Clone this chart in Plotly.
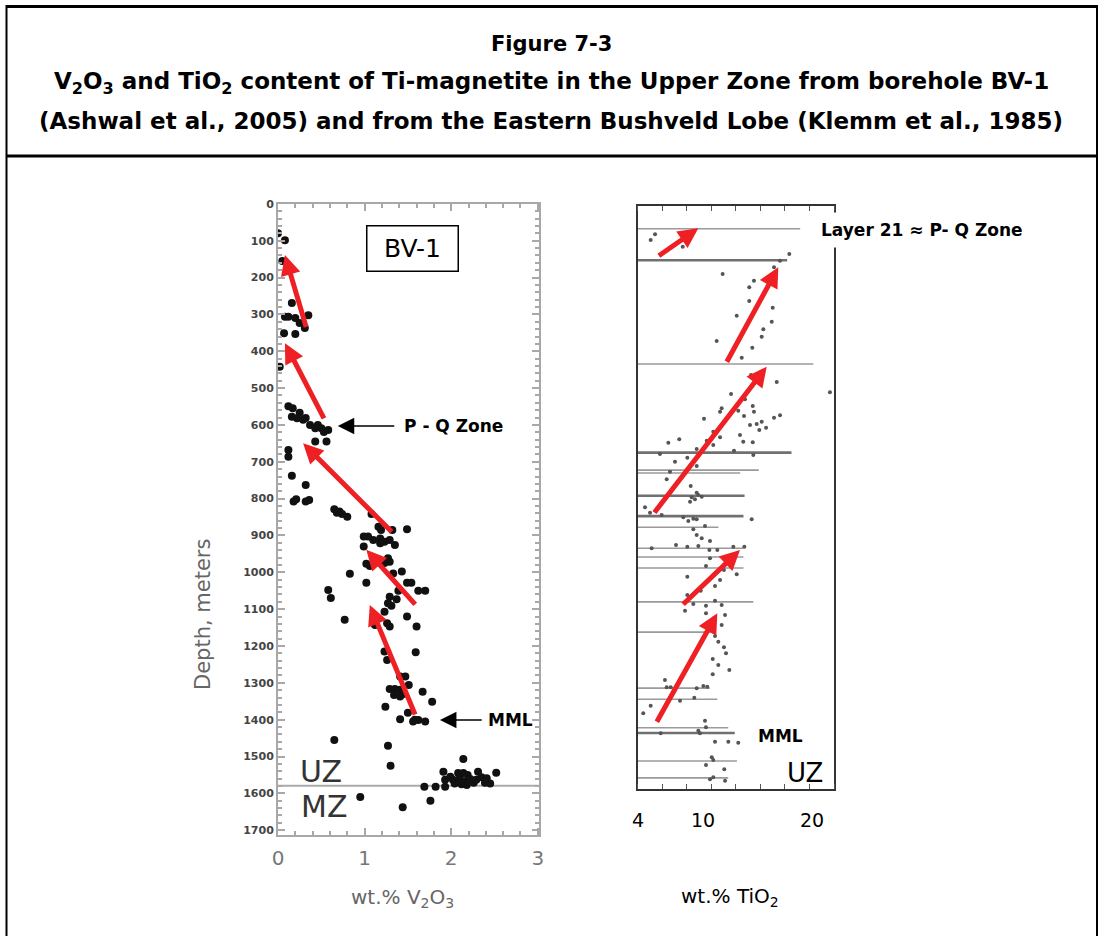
import plotly.graph_objects as go

W, H = 1102, 936

# ---------------- Left panel: borehole BV-1 (Ashwal et al., 2005) ----------------
v2o3 = [0.00, 0.08, 0.05, 0.16, 0.08, 0.12, 0.20, 0.25, 0.31, 0.35, 0.07, 0.20, 0.02,
        0.12, 0.17, 0.25, 0.16, 0.22, 0.29, 0.32, 0.37, 0.43, 0.46, 0.50, 0.53, 0.58, 0.43, 0.56, 0.12, 0.12,
        0.16, 0.32, 0.18, 0.21, 0.32, 0.36,
        0.65, 0.71, 0.74, 0.80, 0.68,
        1.08, 1.16, 1.19, 1.32, 1.49,
        0.99, 1.04, 1.18, 1.29, 1.35, 1.10, 1.18, 1.23, 0.99,
        1.27, 1.29, 1.23, 1.02, 1.06,
        1.33, 1.43, 0.83, 1.02, 1.49, 1.54,
        1.39, 1.62, 1.70, 0.58, 0.61,
        1.29, 1.37, 1.27, 1.31, 1.23, 1.49, 0.77,
        1.12, 1.26, 1.29, 1.60,
        1.23, 1.26, 1.59,
        1.41, 1.47, 1.51, 1.29, 1.35, 1.41, 1.34, 1.41, 1.45, 1.67, 1.78, 1.24, 1.50, 1.41, 1.56, 1.62, 1.70, 1.58,
        0.65, 1.27, 1.30, 0.95, 1.44, 1.76, 1.69, 1.82, 2.14,
        1.91, 1.93, 1.93, 1.99, 2.02, 2.08, 2.10, 2.14, 2.16, 2.19, 2.22, 2.26, 2.31, 2.35, 2.39, 2.45, 2.52,
        2.04, 2.12, 2.18, 2.29, 2.41]
depth = [80, 99, 155, 269, 306, 306, 310, 323, 337, 302, 351, 353, 442,
         549, 555, 567, 578, 582, 586, 581, 600, 609, 600, 609, 619, 614, 645, 645, 668, 686,
         738, 763, 808, 802, 808, 804,
         829, 835, 842, 849, 838,
         842, 876, 885, 885, 883,
         903, 903, 908, 912, 926, 912, 921, 917, 930,
         962, 971, 975, 977, 983,
         1003, 998, 1004, 1028, 1028, 1028,
         1050, 1050, 1050, 1048, 1070,
         1066, 1073, 1084, 1091, 1107, 1120, 1129,
         1143, 1138, 1147, 1147,
         1215, 1238, 1217,
         1283, 1283, 1306, 1317, 1317, 1319, 1333, 1337, 1330, 1324, 1351, 1365, 1381, 1399, 1405, 1401, 1405, 1400,
         1455, 1471, 1525, 1610, 1638, 1620, 1582, 1582, 1507,
         1541, 1563, 1582, 1555, 1563, 1545, 1559, 1545, 1568, 1550, 1561, 1571, 1541, 1556, 1571, 1573, 1544,
         1573, 1575, 1577, 1563, 1559]

uz_mz_depth = 1579
y_ticks = list(range(0, 1800, 100))
x_ticks = [0, 1, 2, 3]

# red trend arrows (tail -> tip), left panel
la_tail_v = [0.33, 0.54, 1.33, 1.60, 1.59]
la_tail_d = [338, 586, 894, 1091, 1390]
la_tip_v = [0.08, 0.08, 0.29, 1.02, 1.06]
la_tip_d = [139, 378, 650, 939, 1089]

# ---------------- Right panel: Eastern Bushveld Lobe (Klemm et al., 1985) ----------------
tio2 = [5.59, 5.19, 8.13, 17.90, 17.05, 16.50, 11.79, 14.66, 14.23, 14.23, 16.38, 13.08, 16.29, 15.52,
        15.37, 11.24, 14.51, 13.54, 14.39, 16.75, 21.63, 12.56, 13.84, 11.70, 11.55, 13.22, 14.55, 14.66,
        13.75, 10.08, 17.05, 16.50, 15.37, 14.91, 14.30, 15.77, 15.15, 10.93, 11.55, 13.38, 7.81, 6.81,
        10.33, 10.93, 13.68, 14.55, 9.41, 12.83, 6.04, 14.60, 8.55, 7.42, 9.41, 6.96, 6.66, 8.86,
        9.41, 9.56, 8.95, 9.25, 8.80, 9.87, 4.67, 5.13, 6.20, 8.18, 8.64, 9.10, 9.41, 14.45, 10.17,
        9.10, 9.41, 9.87, 10.63, 5.28, 7.51, 8.55, 9.56, 10.57, 11.30, 12.77, 13.78, 10.63, 10.26,
        11.91, 13.08, 11.55, 8.55, 11.09, 8.55, 9.78, 11.09, 11.70, 9.10, 10.26, 8.34, 10.26, 12.01,
        11.70, 10.93, 11.09, 11.39, 11.91, 12.10, 10.88, 11.39, 12.40, 10.88, 6.50, 6.66, 7.03, 9.41,
        10.02, 10.38, 9.19, 7.88, 5.19, 4.51, 10.17, 10.26, 9.56, 9.71, 6.11, 11.09, 12.31, 13.22,
        10.79, 10.26, 10.93, 11.94, 10.63, 12.01, 10.93]
strat_pos = [4.85, 5.83, 6.98, 8.23, 9.38, 10.51, 11.66, 12.81, 13.95, 16.30, 17.44, 18.82, 19.85, 21.15,
             22.42, 23.16, 24.31, 26.02, 28.99, 30.19, 31.96, 32.25, 33.16, 34.70, 35.28, 35.11, 34.31, 35.28,
             36.02, 36.48, 35.90, 36.31, 37.00, 37.39, 37.56, 38.03, 38.42, 38.71, 39.67, 39.28, 40.02, 40.60,
             40.26, 41.00, 40.43, 40.53, 41.68, 41.97, 42.54, 42.71, 43.17, 43.86, 44.60, 45.58, 46.88, 48.03,
             49.18, 49.57, 49.97, 50.31, 50.72, 49.86, 51.68, 52.61, 53.00, 53.40, 54.03, 53.64, 53.74, 53.74, 54.89,
             55.46, 56.43, 57.00, 57.46, 58.72, 58.15, 58.44, 58.32, 59.01, 59.01, 58.44, 58.44, 60.43, 61.75,
             62.44, 63.17, 64.15, 63.59, 65.18, 66.73, 65.99, 67.70, 68.44, 68.27, 68.56, 69.42, 69.86, 70.16,
             71.87, 73.02, 73.76, 74.74, 75.70, 76.73, 77.70, 78.73, 79.59, 80.33, 81.30, 82.56, 82.56, 82.73,
             82.33, 82.45, 84.34, 84.86, 85.71, 87.02, 88.29, 89.42, 90.00, 90.45, 90.45, 91.89, 91.89, 92.06,
             94.56, 95.88, 95.03, 96.62, 98.34, 98.58, 98.00]

# magnetite layers (position, lateral extent in TiO2 units)
layer_pos_thin = [3.9, 27.1, 45.3, 45.8, 55.1, 58.7, 60.2, 62.1, 67.9, 73.1, 82.7, 84.6, 89.5, 95.2, 98.1]
layer_ext_thin = [18.9, 20.1, 15.1, 13.4, 11.4, 13.7, 13.7, 13.7, 14.6, 10.9, 10.6, 11.3, 12.3, 13.1, 12.3]
layer_pos_thick = [9.3, 42.3, 49.7, 53.2, 90.4]
layer_ext_thick = [17.7, 18.1, 13.8, 13.7, 12.9]

ra_tail_t = [5.80, 12.10, 5.43, 8.03, 5.68]
ra_tail_p = [8.70, 26.98, 52.83, 68.56, 88.73]
ra_tip_t = [9.56, 16.89, 15.83, 13.38, 11.30]
ra_tip_p = [3.83, 10.51, 27.56, 59.01, 69.86]

tio2_ticks = [4, 10, 20]

RED = "#ee2024"
GRAY = "#a8a8a8"
FAM = "DejaVu Sans, Verdana, sans-serif"


def px(x):
    return x / W


def py(y):
    return 1 - y / H


fig = go.Figure()

fig.add_trace(go.Scatter(x=[0, 3.1], y=[uz_mz_depth, uz_mz_depth], mode="lines",
                         line=dict(color="#aaaaaa", width=2), xaxis="x", yaxis="y", hoverinfo="skip"))
fig.add_trace(go.Scatter(x=v2o3, y=depth, mode="markers",
                         marker=dict(color="#111111", size=8), xaxis="x", yaxis="y"))


def seg(pos, ext):
    xs, ys = [], []
    for p, e in zip(pos, ext):
        xs += [4, e, None]
        ys += [p, p, None]
    return xs, ys


xs, ys = seg(layer_pos_thin, layer_ext_thin)
fig.add_trace(go.Scatter(x=xs, y=ys, mode="lines", line=dict(color="#9a9a9a", width=1.6),
                         xaxis="x2", yaxis="y2", hoverinfo="skip"))
xs, ys = seg(layer_pos_thick, layer_ext_thick)
fig.add_trace(go.Scatter(x=xs, y=ys, mode="lines", line=dict(color="#707070", width=2.6),
                         xaxis="x2", yaxis="y2", hoverinfo="skip"))
fig.add_trace(go.Scatter(x=tio2, y=strat_pos, mode="markers",
                         marker=dict(color="#555555", size=4), xaxis="x2", yaxis="y2"))

annotations = []

for tv, td, hv, hd in zip(la_tail_v, la_tail_d, la_tip_v, la_tip_d):
    annotations.append(dict(x=hv, y=hd, ax=tv, ay=td, xref="x", yref="y", axref="x", ayref="y",
                            text="", showarrow=True, arrowhead=2, arrowsize=0.8, arrowwidth=5,
                            arrowcolor=RED))
for tv, td, hv, hd in zip(ra_tail_t, ra_tail_p, ra_tip_t, ra_tip_p):
    annotations.append(dict(x=hv, y=hd, ax=tv, ay=td, xref="x2", yref="y2", axref="x2", ayref="y2",
                            text="", showarrow=True, arrowhead=2, arrowsize=0.8, arrowwidth=5,
                            arrowcolor=RED))

annotations.append(dict(x=0.69, y=603, ax=1.36, ay=603, xref="x", yref="y", axref="x", ayref="y",
                        text="", showarrow=True, arrowhead=2, arrowsize=2.2, arrowwidth=1.5,
                        arrowcolor="black"))
annotations.append(dict(x=1.87, y=1401, ax=2.37, ay=1401, xref="x", yref="y", axref="x", ayref="y",
                        text="", showarrow=True, arrowhead=2, arrowsize=2.2, arrowwidth=1.5,
                        arrowcolor="black"))

BOLD = dict(family=FAM, size=17, color="black", weight="bold")


def txt(x, y, text, font, xanchor="left", **kw):
    d = dict(x=px(x), y=py(y), xref="paper", yref="paper", xanchor=xanchor, yanchor="middle",
             text=text, showarrow=False, font=font)
    d.update(kw)
    return d


annotations += [
    txt(402, 426, "P - Q Zone", BOLD),
    txt(486, 720, "MML", BOLD),
    txt(412.5, 248.5, "BV-1", dict(family=FAM, size=25, color="black"), xanchor="center",
        width=88, height=42, borderpad=1, bordercolor="black", borderwidth=1.5, bgcolor="white"),
    txt(298, 771, "UZ", dict(family=FAM, size=30, color="#333333")),
    txt(299, 806, "MZ", dict(family=FAM, size=30, color="#333333")),
    txt(203, 615, "Depth, meters", dict(family=FAM, size=21, color="#666666"), xanchor="center",
        textangle=-90),
    txt(402, 898, "wt.% V<sub>2</sub>O<sub>3</sub>", dict(family=FAM, size=20, color="#666666"),
        xanchor="center"),
    txt(813, 230, "Layer 21 \u2248 P- Q Zone", BOLD, bgcolor="white", borderpad=7),
    txt(756, 736, "MML", BOLD),
    txt(825, 773, "UZ", dict(family=FAM, size=26, color="black"), xanchor="right"),
    txt(730, 897, "wt.% TiO<sub>2</sub>", dict(family=FAM, size=20, color="black"), xanchor="center"),
]

for t in tio2_ticks:
    annotations.append(dict(x=t, y=py(820), xref="x2", yref="paper", xanchor="center", yanchor="middle",
                            text=str(t), showarrow=False, font=dict(family=FAM, size=19, color="black")))

TF = dict(family=FAM, size=23, color="black", weight="bold")
annotations += [
    txt(551, 44, "Figure 7-3", dict(family=FAM, size=21, color="black", weight="bold"), xanchor="center"),
    txt(551, 83, "V<sub>2</sub>O<sub>3</sub> and TiO<sub>2</sub> content of Ti-magnetite in the Upper Zone from borehole BV-1",
        TF, xanchor="center"),
    txt(551, 121, "(Ashwal et al., 2005) and from the Eastern Bushveld Lobe (Klemm et al., 1985)",
        TF, xanchor="center"),
]

shapes = [
    dict(type="line", xref="paper", yref="paper", x0=px(6), x1=px(1098), y0=py(6.5), y1=py(6.5),
         line=dict(color="black", width=3)),
    dict(type="line", xref="paper", yref="paper", x0=px(6), x1=px(1098), y0=py(156), y1=py(156),
         line=dict(color="black", width=3)),
    dict(type="line", xref="paper", yref="paper", x0=px(6.5), x1=px(6.5), y0=py(5), y1=py(936),
         line=dict(color="black", width=2)),
    dict(type="line", xref="paper", yref="paper", x0=px(1097), x1=px(1097), y0=py(5), y1=py(936),
         line=dict(color="black", width=2)),
]

fig.update_layout(
    width=W, height=H, margin=dict(l=0, r=0, t=0, b=0, autoexpand=False),
    paper_bgcolor="white", plot_bgcolor="white", showlegend=False,
    annotations=annotations, shapes=shapes,
    xaxis=dict(domain=[px(278), px(539)], range=[0, 3.014], tickvals=x_ticks,
               showline=True, linecolor=GRAY, linewidth=2, mirror="allticks",
               ticks="inside", ticklen=7, tickcolor=GRAY, tickwidth=1.5,
               minor=dict(dtick=0.2, tick0=0, ticks="inside", ticklen=4, tickcolor=GRAY),
               showgrid=False, zeroline=False, ticklabelstandoff=4,
               tickfont=dict(family=FAM, size=20, color="#777777")),
    yaxis=dict(domain=[py(835), py(203.9)], range=[1713, 0], tickvals=y_ticks,
               showline=True, linecolor=GRAY, linewidth=2, mirror="allticks",
               ticks="inside", ticklen=7, tickcolor=GRAY, tickwidth=1.5,
               minor=dict(dtick=20, tick0=0, ticks="inside", ticklen=4, tickcolor=GRAY),
               showgrid=False, zeroline=False,
               tickfont=dict(family=FAM, size=11, color="#444444", weight="bold")),
    xaxis2=dict(domain=[px(637.7), px(834)], range=[4, 22], anchor="y2",
                showticklabels=False, showline=True, linecolor="#333333", linewidth=1.5,
                mirror="allticks", ticks="", showgrid=False, zeroline=False,
                minor=dict(dtick=2.25, tick0=4, ticks="inside", ticklen=5, tickcolor="#555555")),
    yaxis2=dict(domain=[py(789), py(206)], range=[100, 0], anchor="x2",
                showticklabels=False, showline=True, linecolor="#333333", linewidth=1.5,
                mirror=True, ticks="", showgrid=False, zeroline=False),
)

fig.write_html("out.html", config={"displayModeBar": False},
               post_script="document.body.style.margin='0';document.body.style.overflow='hidden';")
